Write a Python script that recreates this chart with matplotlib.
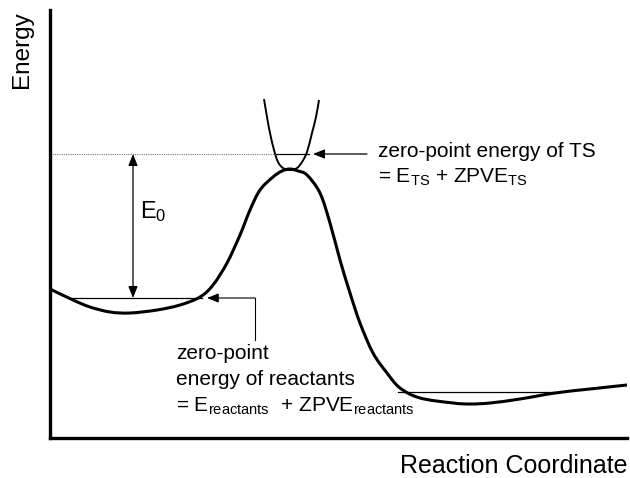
import numpy as np
import matplotlib
import matplotlib.pyplot as plt
from matplotlib.path import Path
from matplotlib.patches import PathPatch

matplotlib.use('Agg')

plt.rcParams['font.family'] = ['Liberation Sans', 'DejaVu Sans']
plt.rcParams['mathtext.default'] = 'regular'

# potential energy along the reaction coordinate
reaction_coord = [0, 23, 40, 60, 80, 107, 130, 150, 163, 177, 190, 200, 210, 223, 232,
                  240, 248, 257, 270, 280, 290, 300, 310, 323, 337, 350, 370, 403, 420,
                  440, 470, 505, 540, 577]
energy = [149, 138, 131, 126, 125, 128, 133, 141, 153, 175, 203, 228, 248, 261, 267,
          269, 267, 263, 245, 215, 178, 145, 115, 85, 65, 50, 40, 35, 34,
          35, 39, 45, 49, 53]

# vibrational well at the transition state
ts_coord = [214, 217, 220, 224, 228, 233, 240, 247, 252, 257, 262, 266, 269]
ts_energy = [339, 321, 305, 288, 276, 270, 268, 270, 276, 286, 305, 321, 338]

# zero-point levels
zpe_ts = 284
zpe_ts_span = [225, 259]
zpe_reactants = 140
zpe_reactants_span = [22, 152]
zpe_products = 46
zpe_products_span = [348, 507]
e0_x = 83


def smooth_path(xs, ys):
    # cubic bezier segments through the read points (catmull-rom tangents)
    pts = np.column_stack([xs, ys]).astype(float)
    verts = [pts[0]]
    codes = [Path.MOVETO]
    n = len(pts)
    for i in range(n - 1):
        p0 = pts[max(i - 1, 0)]
        p1 = pts[i]
        p2 = pts[i + 1]
        p3 = pts[min(i + 2, n - 1)]
        verts += [p1 + (p2 - p0) / 6, p2 - (p3 - p1) / 6, p2]
        codes += [Path.CURVE4] * 3
    return Path(verts, codes)


fig = plt.figure(figsize=(6.3, 4.78), dpi=100)
ax = fig.add_axes([50 / 630, 40 / 478, 577 / 630, 428 / 478])
ax.set_xlim(0, 577)
ax.set_ylim(0, 428)
for side in ['top', 'right']:
    ax.spines[side].set_visible(False)
for side in ['left', 'bottom']:
    ax.spines[side].set_linewidth(2.4)
ax.set_xticks([])
ax.set_yticks([])

# curves
ax.add_patch(PathPatch(smooth_path(reaction_coord, energy), fill=False,
                       edgecolor='black', lw=2.2, capstyle='round', joinstyle='round'))
ax.add_patch(PathPatch(smooth_path(ts_coord, ts_energy), fill=False,
                       edgecolor='black', lw=1.4, joinstyle='round'))

# zero-point lines
ax.plot(zpe_ts_span, [zpe_ts, zpe_ts], color='black', lw=0.9)
ax.plot([0, zpe_ts_span[0]], [zpe_ts, zpe_ts], color='#777777', lw=0.8, ls=(0, (1, 1)))
ax.plot(zpe_reactants_span, [zpe_reactants, zpe_reactants], color='black', lw=0.9)
ax.plot(zpe_products_span, [zpe_products, zpe_products], color='black', lw=0.9)

# E0 double arrow
head = '<|-|>,head_length=0.7,head_width=0.28'
ax.annotate('', xy=(e0_x, zpe_ts), xytext=(e0_x, zpe_reactants),
            arrowprops=dict(arrowstyle=head, mutation_scale=10, lw=0.9, color='black',
                            shrinkA=0, shrinkB=0))
ax.text(90, 226, 'E$_0$', fontsize=17, ha='left', va='center')

# pointer to the TS level
single = '-|>,head_length=0.7,head_width=0.28'
ax.annotate('', xy=(263, zpe_ts), xytext=(317, zpe_ts),
            arrowprops=dict(arrowstyle=single, mutation_scale=10, lw=0.9, color='black',
                            shrinkA=0, shrinkB=0))
ax.text(328, 281, 'zero-point energy of TS', fontsize=15, va='baseline')
ax.text(328, 255, '= E$_{TS}$ + ZPVE$_{TS}$', fontsize=15, va='baseline')

# pointer to the reactant level
ax.plot([205, 205], [98, zpe_reactants], color='black', lw=0.8)
ax.annotate('', xy=(157, zpe_reactants), xytext=(205, zpe_reactants),
            arrowprops=dict(arrowstyle=single, mutation_scale=10, lw=0.8, color='black',
                            shrinkA=0, shrinkB=0))
ax.text(126, 79, 'zero-point', fontsize=15, va='baseline')
ax.text(126, 53, 'energy of reactants', fontsize=15, va='baseline')
ax.text(126, 26, '= E$_{reactants}$  + ZPVE$_{reactants}$', fontsize=15, va='baseline')

# axis titles
fig.text(22 / 630, 1 - 50 / 478, 'Energy', fontsize=17.5, rotation=90,
         ha='center', va='center')
fig.text(627 / 630, 1 - 466 / 478, 'Reaction Coordinate', fontsize=18,
         ha='right', va='center')

fig.savefig('out.png', dpi=100)
